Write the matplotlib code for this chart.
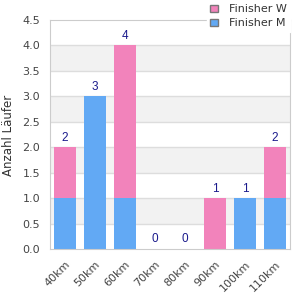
import matplotlib.pyplot as plt
import numpy as np
from matplotlib.patches import Rectangle

categories = ['40km', '50km', '60km', '70km', '80km', '90km', '100km', '110km']
finisher_m = [1, 3, 1, 0, 0, 0, 1, 1]
finisher_w = [1, 0, 3, 0, 0, 1, 0, 1]

pink = '#f283bb'
blue = '#62a9f4'

fig = plt.figure(figsize=(3, 3), dpi=100)
ax = fig.add_axes([50/300, 51/300, 240/300, 229/300])

x = np.arange(len(categories))
total = np.array(finisher_m) + np.array(finisher_w)

# alternating background bands
for lo in [0.5, 1.5, 2.5, 3.5]:
    ax.axhspan(lo, lo + 0.5, color='#f2f2f2', zorder=0, lw=0)
for yv in np.arange(0.5, 4.5, 0.5):
    ax.axhline(yv, color='#dddddd', lw=1, zorder=0.5)

ax.bar(x, finisher_m, width=0.73, color=blue, zorder=2, label='Finisher M')
ax.bar(x, finisher_w, width=0.73, bottom=finisher_m, color=pink, zorder=2, label='Finisher W')

for xi, t in zip(x, total):
    ax.text(xi, t + 0.07, str(t), ha='center', va='bottom', fontsize=8.5,
            color='#1a1a8c', family='Liberation Sans')

ax.set_xlim(-0.5, 7.5)
ax.set_ylim(0, 4.5)
ax.set_yticks(np.arange(0, 4.6, 0.5))
ax.set_yticklabels([f'{v:.1f}' for v in np.arange(0, 4.6, 0.5)])
ax.set_xticks(x)
ax.set_xticklabels(categories, rotation=45, ha='right', rotation_mode='anchor')
ax.tick_params(axis='both', colors='#bbbbbb', labelcolor='#444444', labelsize=8, length=0, pad=7)
for s in ax.spines.values():
    s.set_color('#cccccc')

# y label placed by hand so it stays inside the figure
fig.text(2/300, 1 - 135/300, 'Anzahl Läufer', rotation=90, fontsize=8.5,
         color='#333333', ha='left', va='center')

handles = [Rectangle((0, 0), 1, 1, fc=pink, ec='#777777'),
           Rectangle((0, 0), 1, 1, fc=blue, ec='#777777')]
leg = fig.legend(handles, ['Finisher W', 'Finisher M'], loc='upper right',
                 bbox_to_anchor=(0.985, 1.015), fontsize=8, frameon=True,
                 handlelength=0.7, handleheight=0.7, handletextpad=1.0,
                 labelspacing=0.35, borderpad=0.3, fancybox=False)
leg.get_frame().set_edgecolor('white')
leg.get_frame().set_facecolor('white')
leg.get_frame().set_alpha(1)
leg.set_zorder(10)
for t in leg.get_texts():
    t.set_color('#333333')

fig.savefig('out.png', dpi=100)
